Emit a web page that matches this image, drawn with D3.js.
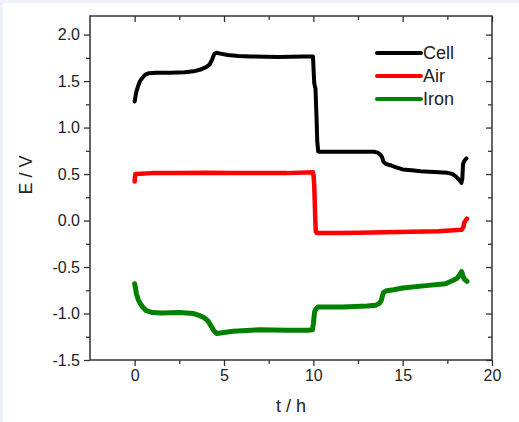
<!DOCTYPE html>
<html>
<head>
<meta charset="utf-8">
<script src="https://cdn.jsdelivr.net/npm/d3@7"></script>
<style>
  html, body { margin: 0; padding: 0; background: #ffffff; }
  svg { display: block; }
  text { font-family: "Liberation Sans", Arial, sans-serif; fill: #222; }
</style>
</head>
<body>
<svg id="chart" width="519" height="422"></svg>
<script>
// ---- data (t in h, E in V) ----
const cellT = [0, 0.05, 0.1, 0.2, 0.3, 0.45, 0.6, 0.8, 1.2, 2.0, 2.8, 3.3, 3.7, 4.0, 4.2, 4.35, 4.45, 4.55, 4.8, 5.2, 5.8, 6.5, 8.0, 9.5, 9.98, 10.02, 10.05, 10.08, 10.12, 10.18, 10.22, 10.27, 10.35, 12.0, 13.4, 13.6, 13.75, 13.85, 13.92, 14.05, 14.3, 14.6, 15.0, 15.5, 16.0, 17.0, 17.5, 17.8, 18.0, 18.15, 18.29, 18.34, 18.38, 18.45, 18.57];
const cellE = [1.28, 1.34, 1.39, 1.45, 1.50, 1.54, 1.57, 1.585, 1.59, 1.59, 1.595, 1.605, 1.625, 1.65, 1.68, 1.74, 1.79, 1.805, 1.795, 1.78, 1.77, 1.765, 1.76, 1.765, 1.765, 1.60, 1.48, 1.45, 1.42, 1.10, 0.85, 0.745, 0.74, 0.74, 0.74, 0.73, 0.71, 0.68, 0.635, 0.61, 0.595, 0.575, 0.55, 0.54, 0.53, 0.52, 0.513, 0.50, 0.47, 0.44, 0.405, 0.45, 0.61, 0.64, 0.67];

const airT = [0, 0.02, 0.04, 1.0, 2.5, 4.0, 5.5, 7.0, 8.5, 9.98, 10.02, 10.05, 10.08, 10.11, 10.14, 10.2, 11.0, 12.5, 14.0, 15.5, 17.0, 18.3, 18.4, 18.45, 18.52, 18.6];
const airE = [0.42, 0.47, 0.50, 0.51, 0.51, 0.515, 0.51, 0.51, 0.51, 0.52, 0.47, 0.38, 0.20, 0.00, -0.12, -0.135, -0.135, -0.13, -0.125, -0.12, -0.115, -0.10, -0.07, -0.02, 0.0, 0.02];

const ironT = [0, 0.1, 0.2, 0.3, 0.45, 0.65, 1.0, 1.5, 2.5, 3.3, 3.6, 3.85, 4.1, 4.3, 4.45, 4.6, 4.8, 5.5, 7.0, 8.5, 9.7, 9.95, 10.0, 10.07, 10.15, 10.25, 11.65, 13.0, 13.5, 13.7, 13.8, 13.88, 13.94, 14.1, 14.5, 15.0, 16.3, 17.4, 17.8, 18.05, 18.2, 18.3, 18.38, 18.45, 18.6];
const ironE = [-0.68, -0.79, -0.85, -0.89, -0.93, -0.97, -0.99, -0.995, -0.99, -1.0, -1.02, -1.04, -1.08, -1.14, -1.19, -1.215, -1.21, -1.19, -1.175, -1.18, -1.18, -1.175, -1.11, -0.985, -0.95, -0.93, -0.93, -0.92, -0.91, -0.89, -0.86, -0.80, -0.77, -0.755, -0.745, -0.725, -0.70, -0.68, -0.645, -0.62, -0.58, -0.55, -0.60, -0.63, -0.655];

const seriesNames = ["Cell", "Air", "Iron"];
const seriesColors = ["#000000", "#ff0000", "#008000"];

const xMajorTicks = [0, 5, 10, 15, 20];
const xMinorTicks = [2.5, 7.5, 12.5, 17.5];
const yMajorTicks = [-1.5, -1.0, -0.5, 0.0, 0.5, 1.0, 1.5, 2.0];
const yMinorTicks = [-1.25, -0.75, -0.25, 0.25, 0.75, 1.25, 1.75];

const xTitle = "t / h";
const yTitle = "E / V";

// ---- layout ----
const L = 90, R = 492, T = 16, B = 360;
const svg = d3.select("#chart");

// faint outer frame like the reference
svg.append("rect").attr("x", 0).attr("y", 0).attr("width", 519).attr("height", 3).attr("fill", "#eef2f8");
svg.append("rect").attr("x", 0).attr("y", 0).attr("width", 3).attr("height", 422).attr("fill", "#eef2f8");

const x = d3.scaleLinear().domain([-2.5, 20]).range([L, R]);
const y = d3.scaleLinear().domain([-1.5, 2.2]).range([B, T]);

const axisColor = "#333";

function styleAxis(g) {
  g.select(".domain").remove();
  g.selectAll(".tick line").attr("stroke", axisColor).attr("stroke-width", 1.3);
  g.selectAll(".tick text").style("font-size", "16px").attr("fill", "#222");
}

// bottom axis (outward ticks)
svg.append("g").attr("transform", `translate(0,${B})`)
  .call(d3.axisBottom(x).tickValues(xMajorTicks).tickSize(6).tickPadding(4).tickFormat(d => String(d)))
  .call(styleAxis);
svg.append("g").attr("transform", `translate(0,${B})`)
  .call(d3.axisBottom(x).tickValues(xMinorTicks).tickSize(4).tickFormat(""))
  .call(styleAxis);
// top axis (inward ticks)
svg.append("g").attr("transform", `translate(0,${T})`)
  .call(d3.axisBottom(x).tickValues(xMajorTicks).tickSize(6).tickFormat(""))
  .call(styleAxis);
svg.append("g").attr("transform", `translate(0,${T})`)
  .call(d3.axisBottom(x).tickValues(xMinorTicks).tickSize(4).tickFormat(""))
  .call(styleAxis);
// left axis (outward)
svg.append("g").attr("transform", `translate(${L},0)`)
  .call(d3.axisLeft(y).tickValues(yMajorTicks).tickSize(6).tickPadding(4).tickFormat(d => d.toFixed(1)))
  .call(styleAxis);
svg.append("g").attr("transform", `translate(${L},0)`)
  .call(d3.axisLeft(y).tickValues(yMinorTicks).tickSize(4).tickFormat(""))
  .call(styleAxis);
// right axis (inward)
svg.append("g").attr("transform", `translate(${R},0)`)
  .call(d3.axisLeft(y).tickValues(yMajorTicks).tickSize(6).tickFormat(""))
  .call(styleAxis);
svg.append("g").attr("transform", `translate(${R},0)`)
  .call(d3.axisLeft(y).tickValues(yMinorTicks).tickSize(4).tickFormat(""))
  .call(styleAxis);

// frame
svg.append("rect").attr("x", L).attr("y", T).attr("width", R - L).attr("height", B - T)
  .attr("fill", "none").attr("stroke", axisColor).attr("stroke-width", 1.5);

// axis titles
svg.append("text").attr("x", (L + R) / 2).attr("y", 412).attr("text-anchor", "middle")
  .style("font-size", "18px").text(xTitle);
svg.append("text").attr("transform", "translate(32,175) rotate(-90)").attr("text-anchor", "middle")
  .style("font-size", "18px").text(yTitle);

// lines
const line = d3.line().x(d => x(d[0])).y(d => y(d[1]));
const series = [
  d3.zip(cellT, cellE),
  d3.zip(airT, airE),
  d3.zip(ironT, ironE)
];
const widths = [4, 4.5, 5];
series.forEach((s, i) => {
  svg.append("path").datum(s).attr("d", line)
    .attr("fill", "none").attr("stroke", seriesColors[i]).attr("stroke-width", widths[i])
    .attr("stroke-linejoin", "round").attr("stroke-linecap", "round");
});

// legend
const legY = [53, 76, 99];
seriesNames.forEach((n, i) => {
  svg.append("line").attr("x1", 377).attr("x2", 421).attr("y1", legY[i]).attr("y2", legY[i])
    .attr("stroke", seriesColors[i]).attr("stroke-width", 4).attr("stroke-linecap", "round");
  svg.append("text").attr("x", 423).attr("y", legY[i]).attr("dy", "0.36em")
    .style("font-size", "18px").text(n);
});
</script>
</body>
</html>
